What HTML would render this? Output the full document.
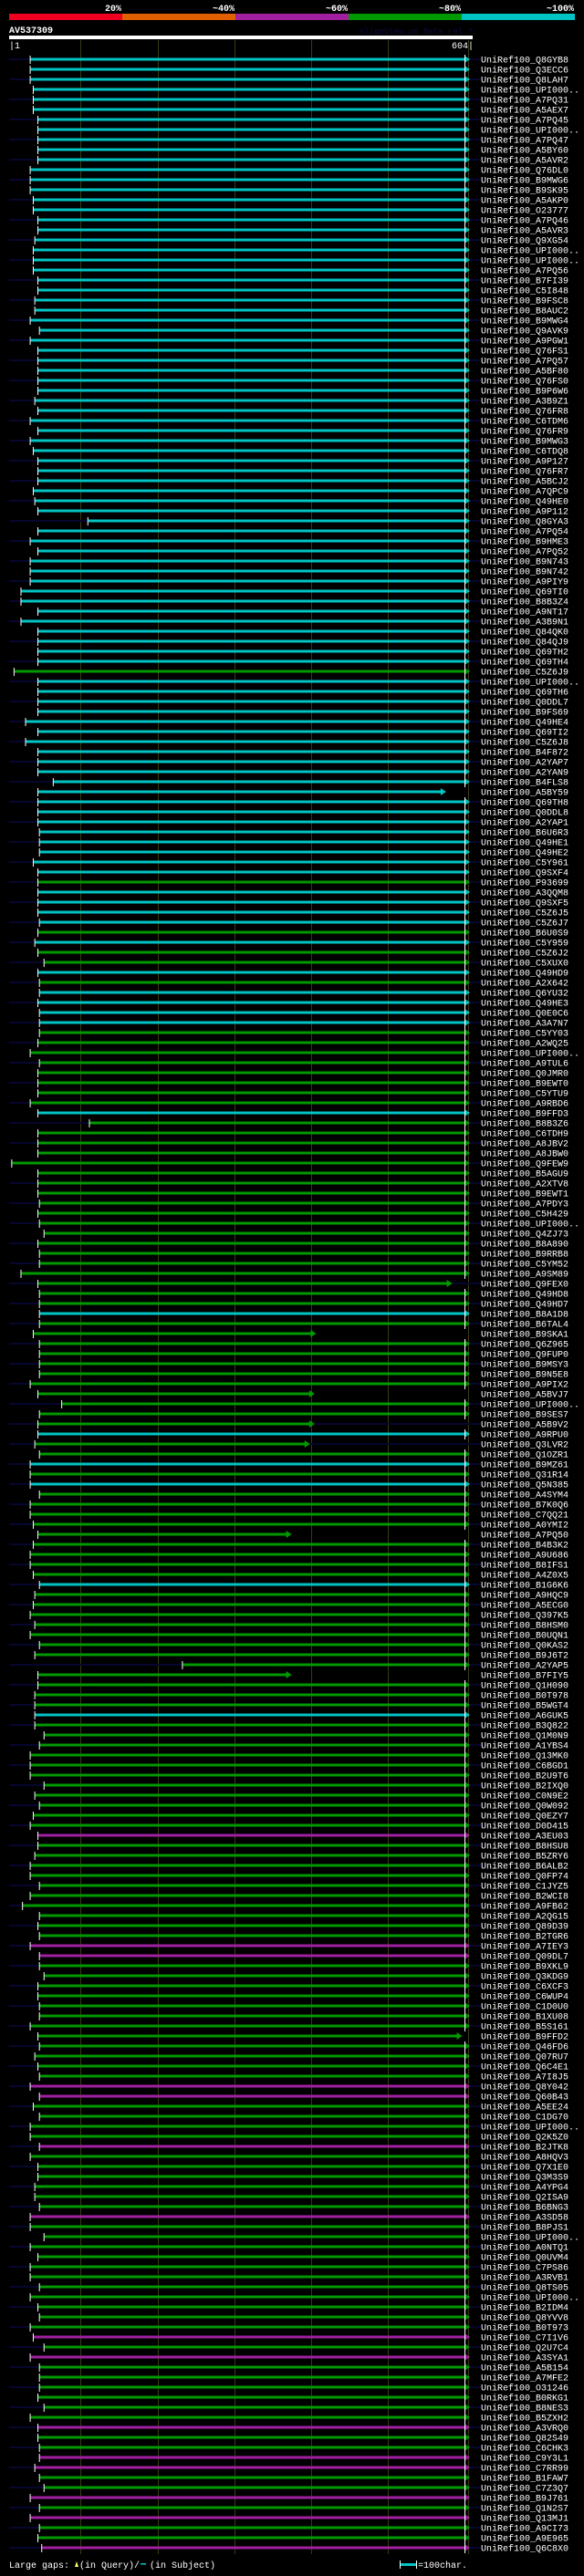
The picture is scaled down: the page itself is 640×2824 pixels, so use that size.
<!DOCTYPE html>
<html><head><meta charset="utf-8"><title>AV537309 alignment</title>
<style>
html,body{margin:0;padding:0;background:#000;}
body{width:640px;height:2819px;overflow:hidden;}
svg text{font-family:"Liberation Mono",monospace;}
</style></head>
<body>
<svg id="chart" width="640" height="2819" viewBox="0 0 640 2819" xmlns="http://www.w3.org/2000/svg">
<rect x="0" y="0" width="640" height="2819" fill="#000"/>
<g>
<rect x="10" y="15" width="124" height="7" fill="#f00020"/>
<rect x="134" y="15" width="124" height="7" fill="#e06000"/>
<rect x="258" y="15" width="124" height="7" fill="#a020a0"/>
<rect x="382" y="15" width="124" height="7" fill="#009900"/>
<rect x="506" y="15" width="124" height="7" fill="#00c4c4"/>
<text x="133" y="12" fill="#fff" font-size="10" font-weight="bold" text-anchor="end">20%</text>
<text x="257" y="12" fill="#fff" font-size="10" font-weight="bold" text-anchor="end">~40%</text>
<text x="381" y="12" fill="#fff" font-size="10" font-weight="bold" text-anchor="end">~60%</text>
<text x="505" y="12" fill="#fff" font-size="10" font-weight="bold" text-anchor="end">~80%</text>
<text x="629" y="12" fill="#fff" font-size="10" font-weight="bold" text-anchor="end">~100%</text>
</g>
<text x="10" y="36" fill="#fff" font-size="10" font-weight="bold">AV537309</text>
<text x="518" y="37" fill="#0a0a40" font-size="9" text-anchor="end">AlignView.pm Beta rel.7</text>
<rect x="10" y="39" width="508" height="4" fill="#fff"/>
<text x="10" y="53" fill="#fff" font-size="10">|1</text>
<text x="519" y="53" fill="#fff" font-size="10" text-anchor="end">604|</text>
<g id="grid"></g>
<g id="rows"></g>
<g>
<text x="10" y="2815" fill="#fff" font-size="10">Large gaps:</text>
<polygon points="82,2814 84,2808 86,2814" fill="#ffff66"/>
<text x="87" y="2815" fill="#fff" font-size="10">(in Query)/</text>
<rect x="154" y="2810" width="6" height="1.5" fill="#00c4c4"/>
<text x="164" y="2815" fill="#fff" font-size="10">(in Subject)</text>
<rect x="439" y="2810" width="17" height="3" fill="#00c4c4"/>
<rect x="438" y="2807" width="1" height="9" fill="#fff"/>
<rect x="456" y="2807" width="1" height="9" fill="#fff"/>
<text x="458" y="2815" fill="#fff" font-size="10">=100char.</text>
</g>
</svg>
<script>
const hitNames = ["Q8GYB8","Q3ECC6","Q8LAH7","UPI000..","A7PQ31","A5AEX7","A7PQ45","UPI000..","A7PQ47","A5BY60","A5AVR2","Q76DL0","B9MWG6","B9SK95","A5AKP0","O23777","A7PQ46","A5AVR3","Q9XG54","UPI000..","UPI000..","A7PQ56","B7FI39","C5I848","B9FSC8",
"B8AUC2","B9MWG4","Q9AVK9","A9PGW1","Q76FS1","A7PQ57","A5BF80","Q76FS0","B9P6W6","A3B9Z1","Q76FR8","C6TDM6","Q76FR9","B9MWG3","C6TDQ8","A9P127","Q76FR7","A5BCJ2","A7QPC9","Q49HE0","A9P112","Q8GYA3","A7PQ54","B9HME3","A7PQ52",
"B9N743","B9N742","A9PIY9","Q69TI0","B8B3Z4","A9NT17","A3B9N1","Q84QK0","Q84QJ9","Q69TH2","Q69TH4","C5Z6J9","UPI000..","Q69TH6","Q0DDL7","B9FS69","Q49HE4","Q69TI2","C5Z6J8","B4F872","A2YAP7","A2YAN9","B4FLS8","A5BY59",
"Q69TH8","Q0DDL8","A2YAP1","B6U6R3","Q49HE1","Q49HE2","C5Y961","Q9SXF4","P93699","A3QQM8","Q9SXF5","C5Z6J5","C5Z6J7","B6U0S9","C5Y959","C5Z6J2","C5XUX0","Q49HD9","A2X642","Q6YU32","Q49HE3","Q0E0C6","A3A7N7","C5YY03","A2WQ25",
"UPI000..","A9TUL6","Q0JMR0","B9EWT0","C5YTU9","A9RBD6","B9FFD3","B8B3Z6","C6TDH9","A8JBV2","A8JBW0","Q9FEW9","B5AGU9","A2XTV8","B9EWT1","A7PDY3","C5H429","UPI000..","Q4ZJ73","B8A890","B9RRB8","C5YM52","A9SM89","Q9FEX0",
"Q49HD8","Q49HD7","B8A1D8","B6TAL4","B9SKA1","Q6Z965","Q9FUP0","B9MSY3","B9N5E8","A9PIX2","A5BVJ7","UPI000..","B9SES7","A5B9V2","A9RPU0","Q3LVR2","Q1OZR1","B9MZ61","Q31R14","Q5N385","A4SYM4","B7K0Q6","C7QQ21","A0YMI2","A7PQ50",
"B4B3K2","A9U686","B8IFS1","A4Z0X5","B1G6K6","A9HQC9","A5ECG0","Q397K5","B8HSM0","B0UQN1","Q0KAS2","B9J6T2","A2YAP5","B7FIY5","Q1H090","B0T978","B5WGT4","A6GUK5","B3Q822","Q1M0N9","A1YBS4","Q13MK0","C6BGD1","B2U9T6",
"B2IXQ0","C0N9E2","Q0W092","Q0EZY7","D0D415","A3EU03","B8HSU8","B5ZRY6","B6ALB2","Q0FP74","C1JYZ5","B2WCI8","A9FB62","A2QG15","Q89D39","B2TGR6","A7IEY3","Q09DL7","B9XKL9","Q3KDG9","C6XCF3","C6WUP4","C1D0U0","B1XU08","B5S161",
"B9FFD2","Q46FD6","Q07RU7","Q6C4E1","A7I8J5","Q8Y042","Q60B43","A5EE24","C1DG70","UPI000..","Q2K5Z0","B2JTK8","A8HQV3","Q7X1E0","Q3M3S9","A4YPG4","Q2ISA9","B6BNG3","A3SD58","B8PJS1","UPI000..","A0NTQ1","Q0UVM4","C7PS86","A3RVB1",
"Q8TS05","UPI000..","B2IDM4","Q8YVV8","B0T973","C7I1V6","Q2U7C4","A3SYA1","A5B154","A7MFE2","O31246","B0RKG1","B8NES3","B5ZXH2","A3VRQ0","Q82S49","C6CHK3","C9Y3L1","C7RR99","B1FAW7","C7Z3Q7","B9J761","Q1N2S7","Q13MJ1","A9CI73","A9E965","Q6C8X0"];
const hitClass = "cccccccccccccccccccccccccccccccccccccccccccccccccccccccccccccgccccccccccccccccccccgccccgcggcgccccggggggggcgggggggggggggggggggcgggggggggggcggcgcgggggggggcggggggggggggcgggggggggggmggggggggggmmggggggggggggmmggggmggggggmgggggggggggmgmggggggmggmmggmgmggmgggggggg";
const hitStart = [29,29,29,33,33,33,39,39,39,39,39,29,29,29,33,33,39,39,35,33,33,33,39,39,35,
35,29,41,29,39,39,39,39,39,35,39,29,39,29,33,39,39,39,33,35,39,104,39,29,39,
29,29,29,17,17,39,17,39,39,39,39,8,39,39,39,39,23,39,23,39,39,39,59,39,
39,39,39,41,41,41,33,39,39,39,39,39,41,39,35,39,47,39,41,41,39,41,41,41,39,
29,41,39,39,39,29,39,106,39,39,39,5,39,39,39,41,39,41,47,39,41,41,17,39,
41,41,41,41,33,41,41,41,41,29,39,70,41,39,39,35,41,29,29,29,41,29,29,33,39,
33,29,29,33,41,35,33,29,35,29,41,35,227,39,39,35,35,35,35,47,41,29,29,29,
47,35,41,33,29,39,39,35,29,29,41,29,19,41,39,41,29,41,41,47,39,39,41,41,29,
39,41,35,39,41,29,41,33,41,29,29,41,29,39,39,35,35,41,29,29,47,29,39,29,29,
41,29,39,41,29,33,47,29,41,41,41,39,47,29,39,39,41,41,35,41,47,29,41,29,41,39,44];
const hitEnd = {73:573,122:581,127:404,133:402,136:402,138:396,147:372,161:372,197:594};
const queryLength = 604;

const NS = "http://www.w3.org/2000/svg";
const X0 = 10, X1 = 518;
function xScale(r){ return X0 + (r - 1) * (X1 - X0) / (queryLength - 1); }
function yRow(i){ return 65 + i * 11; }
const colors = {c:"#00c4c4", g:"#009900", m:"#a020a0"};
function mk(tag, attrs, parent){ const e = document.createElementNS(NS, tag); for (const k in attrs) e.setAttribute(k, attrs[k]); parent.appendChild(e); return e; }

const grid = document.getElementById('grid');
[100,200,300,400,500,604].forEach(function(r){
  const gx = Math.round(xScale(r)) - 5 + 0.5;
  const ln = mk('line', {x1:gx, x2:gx, y1:44, y2:2800, stroke:"#3a3a14", "stroke-width":1}, grid);
  
  
});

const rows = document.getElementById('rows');
for (let i = 0; i < hitNames.length; i++) {
  const y = yRow(i);
  const g = mk('g', {}, rows);
  
  
  if (i % 2 === 0) {
    const st = mk('rect', {x:10, y:y-1, width:517, height:2, fill:"#06062e"}, g);
    
    
  }
  const col = colors[hitClass[i]] || colors.g;
  const xs = xScale(hitStart[i]);
  const end = hitEnd[i] || queryLength;
  const xe = xScale(end) - 3;
  const bar = mk('rect', {x:xs, y:y-1.5, width:Math.max(0, xe - 5 - xs), height:3, fill:col}, g);
  
  
  const ar = mk('polygon', {points:(xe-6)+","+(y-4)+" "+(xe)+","+y+" "+(xe-6)+","+(y+4), fill:col}, g);
  
  
  const tk = mk('rect', {x:xs-1, y:y-4, width:1, height:9, fill:"#fff"}, g);
  
  
  if (!hitEnd[i]) {
    const te = mk('rect', {x:xe-6, y:y-5, width:1, height:11, fill:"#fff"}, g);
    
    
  }
  const t = mk('text', {x:527, y:y+3.5, fill:"#fff", "font-size":10}, g);
  t.textContent = "UniRef100_" + hitNames[i];
  
  
}
</script>
</body></html>
